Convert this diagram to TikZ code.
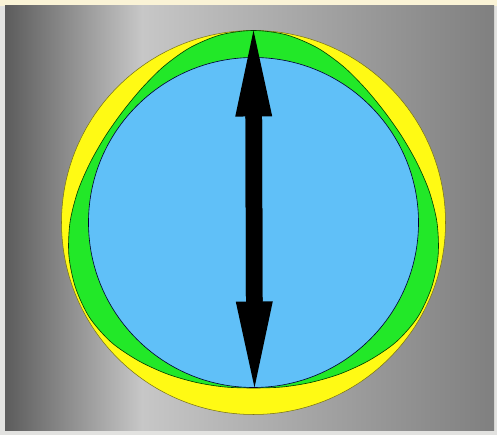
\documentclass[tikz,border=0pt]{standalone}
\usepackage{tikz}
\usetikzlibrary{arrows.meta}
\definecolor{paneldark}{gray}{0.36}
\definecolor{panellight}{gray}{0.78}
\definecolor{panelright}{gray}{0.50}
\definecolor{framecream}{RGB}{250,243,214}
\definecolor{frameedge}{RGB}{226,226,224}
\definecolor{rimyellow}{RGB}{255,250,20}
\definecolor{lobegreen}{RGB}{34,232,40}
\definecolor{coreblue}{RGB}{96,192,248}
\pgfdeclarehorizontalshading{panelshade}{100bp}{color(0bp)=(paneldark);
  color(25bp)=(paneldark); color(39bp)=(panellight);
  color(75bp)=(panelright); color(100bp)=(panelright)}
\tikzset{
  rim/.style={fill=rimyellow, draw=olive!80!black, line width=0.3pt},
  lobe/.style={fill=lobegreen, draw=black!75!green, line width=0.35pt},
  core/.style={fill=coreblue, draw=black!80!blue, line width=0.35pt},
  shaft/.style={line width=0.33cm, shorten >=1.55cm, shorten <=1.55cm},
  dblarr/.style={line width=0.33cm, {Triangle[length=1.72cm, width=0.74cm, line width=0pt]}-{Triangle[length=1.72cm, width=0.74cm, line width=0pt]}},
}

\begin{document}
\begin{tikzpicture}[x=0.02cm, y=0.02cm]
  \useasboundingbox (0,0) rectangle (497,435);
  % frame and grey panel
  \fill[frameedge] (0,0) rectangle (497,435);
  \fill[framecream] (0,429) rectangle (497,435);
  \shade[shading=panelshade] (5,4) rectangle (494,429);

  \coordinate (ctr) at (253.5,212.5);

  \draw[rim] (ctr) circle[radius=192];
  % rounded three-lobed shape
  \begin{scope}[shift={(ctr)}]
    \draw[lobe] plot[smooth cycle] coordinates {
      (90:192) (100:190.5) (110:186) (120:180) (130:174.5) (140:171.5)
      (150:171.5) (160:174) (170:178.5) (180:183.5) (190:187.5) (200:189.5)
      (210:189.5) (220:186) (230:180) (240:174.5) (250:170) (260:167)
      (270:165.5) (280:167) (290:170) (300:174.5) (310:180) (320:186)
      (330:189.5) (340:189.5) (350:187.5) (0:183.5) (10:178.5) (20:174)
      (30:171.5) (40:171.5) (50:174.5) (60:180) (70:186) (80:190.5)};
  \end{scope}
  \draw[core] (ctr) circle[radius=165];

  \coordinate (tipN) at (253.5,404.5);
  \coordinate (tipS) at (254.5,47.5);
  \draw[shaft] (tipN) -- (tipS);
  \draw[dblarr] (tipN) -- (tipS);
\end{tikzpicture}
\end{document}
